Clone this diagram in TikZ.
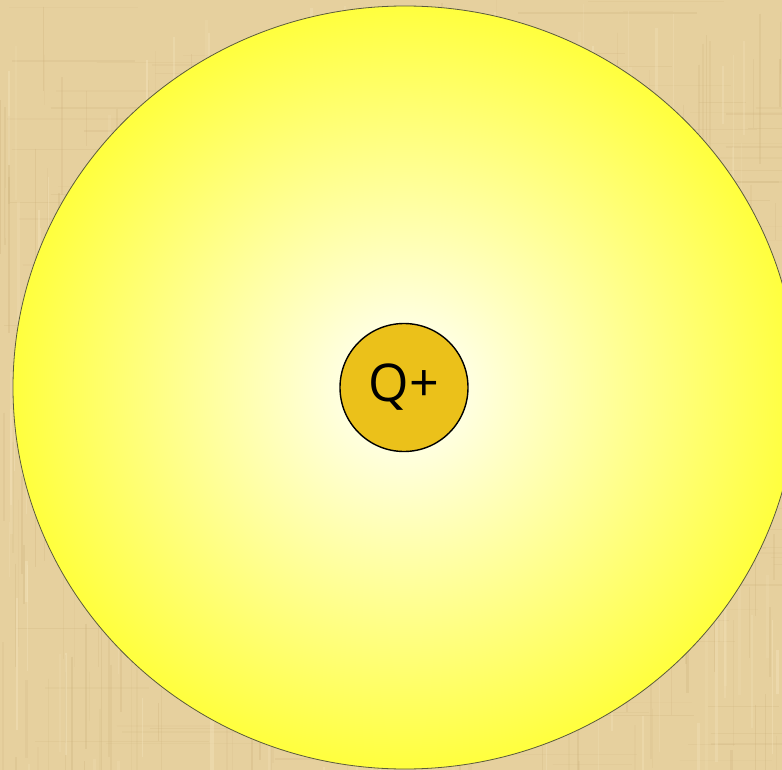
\documentclass[tikz,border=0pt]{standalone}
\usepackage{fontspec}
\setmainfont{Open Sans}
\definecolor{papyrus}{RGB}{230,208,158}
\definecolor{papdark}{RGB}{200,172,118}
\definecolor{paplight}{RGB}{244,228,188}
\definecolor{sunyellow}{RGB}{255,255,62}
\definecolor{coregold}{RGB}{235,193,26}
\definecolor{rimgray}{RGB}{90,90,60}
\tikzset{
  field/.style={draw=rimgray, line width=0.8pt, inner color=white, outer color=sunyellow},
  charge/.style={circle, draw=black, line width=1.4pt, fill=coregold, minimum size=128pt, inner sep=0pt, font=\fontsize{52}{56}\selectfont},
  streak/.style={line width=#1},
}
\begin{document}
\begin{tikzpicture}[x=1pt,y=-1pt]
\useasboundingbox (0,0) rectangle (782,770);
\fill[papyrus] (0,0) rectangle (782,770);
\pgfmathsetseed{7}
\begin{scope}
\clip (0,0) rectangle (782,770);
\foreach \i in {1,...,320}{
  \pgfmathsetmacro{\xx}{rnd*782}
  \pgfmathsetmacro{\yy}{rnd*770}
  \pgfmathsetmacro{\ll}{30+rnd*150}
  \pgfmathsetmacro{\op}{0.08+rnd*0.2}
  \pgfmathsetmacro{\ww}{0.5+rnd*1.8}
  \draw[papdark, opacity=\op, streak=\ww] (\xx,\yy) -- (\xx,\yy+\ll);
}
\foreach \i in {1,...,200}{
  \pgfmathsetmacro{\xx}{rnd*782}
  \pgfmathsetmacro{\yy}{rnd*770}
  \pgfmathsetmacro{\ll}{30+rnd*180}
  \pgfmathsetmacro{\op}{0.06+rnd*0.16}
  \pgfmathsetmacro{\ww}{0.5+rnd*1.4}
  \draw[papdark, opacity=\op, streak=\ww] (\xx,\yy) -- (\xx+\ll,\yy);
}
\foreach \i in {1,...,200}{
  \pgfmathsetmacro{\xx}{rnd*782}
  \pgfmathsetmacro{\yy}{rnd*770}
  \pgfmathsetmacro{\ll}{30+rnd*150}
  \pgfmathsetmacro{\op}{0.15+rnd*0.3}
  \pgfmathsetmacro{\ww}{0.8+rnd*2.5}
  \draw[paplight, opacity=\op, streak=\ww] (\xx,\yy) -- (\xx,\yy+\ll);
}
\end{scope}
\path[field] (405,387.5) ellipse [x radius=392, y radius=381.5];
\node[charge] (q) at (404,387.5) {Q+};
\end{tikzpicture}
\end{document}
